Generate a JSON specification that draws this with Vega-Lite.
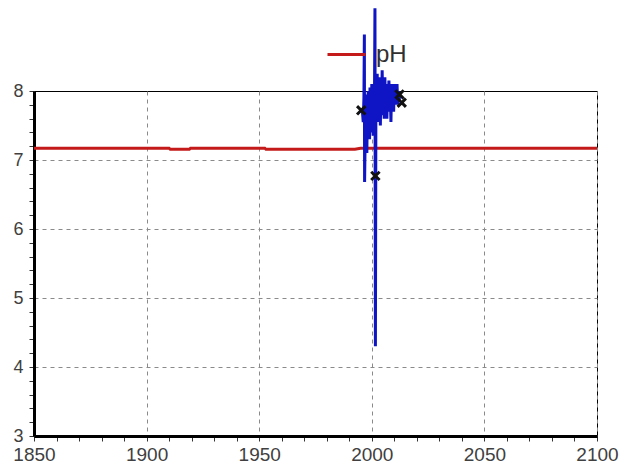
{
  "$schema": "https://vega.github.io/schema/vega-lite/v6.json",
  "autosize": "none",
  "width": 563,
  "height": 345,
  "padding": {"left": 34, "top": 91, "right": 22, "bottom": 33},
  "background": "white",
  "config": {
    "view": {"stroke": "black", "strokeWidth": 1},
    "font": "Liberation Sans",
    "axis": {
      "labelFont": "Liberation Sans",
      "labelFontSize": 19,
      "labelColor": "#404040",
      "domainColor": "black",
      "domainWidth": 3,
      "tickColor": "#333333",
      "tickSize": 5,
      "tickWidth": 1,
      "gridColor": "#8a8a8a",
      "gridDash": [4, 4],
      "gridWidth": 1,
      "title": null
    }
  },
  "datasets": {
    "ph": [
      {"year": 1850, "value": 7.17, "series": "pH"},
      {"year": 1910, "value": 7.17, "series": "pH"},
      {"year": 1910.5, "value": 7.155, "series": "pH"},
      {"year": 1919, "value": 7.155, "series": "pH"},
      {"year": 1919.5, "value": 7.17, "series": "pH"},
      {"year": 1952.5, "value": 7.17, "series": "pH"},
      {"year": 1953, "value": 7.155, "series": "pH"},
      {"year": 1992.5, "value": 7.155, "series": "pH"},
      {"year": 1995, "value": 7.17, "series": "pH"},
      {"year": 2100, "value": 7.17, "series": "pH"}
    ],
    "obs": [
      {"year": 1995.8, "value": 7.72},
      {"year": 1996.2, "value": 7.55},
      {"year": 1996.5, "value": 7.9},
      {"year": 1996.7, "value": 8.82},
      {"year": 1996.8, "value": 6.68},
      {"year": 1997.0, "value": 7.2},
      {"year": 1997.2, "value": 7.85},
      {"year": 1997.4, "value": 7.35},
      {"year": 1997.6, "value": 7.95},
      {"year": 1997.8, "value": 7.1},
      {"year": 1998.0, "value": 7.7},
      {"year": 1998.2, "value": 7.3},
      {"year": 1998.4, "value": 8.0},
      {"year": 1998.6, "value": 7.45},
      {"year": 1998.8, "value": 7.9},
      {"year": 1999.0, "value": 7.3},
      {"year": 1999.2, "value": 8.05},
      {"year": 1999.4, "value": 7.5},
      {"year": 1999.6, "value": 7.95},
      {"year": 1999.8, "value": 7.4},
      {"year": 2000.0, "value": 8.1},
      {"year": 2000.2, "value": 7.55},
      {"year": 2000.4, "value": 7.9},
      {"year": 2000.6, "value": 7.35},
      {"year": 2000.8, "value": 8.0},
      {"year": 2001.0, "value": 7.6},
      {"year": 2001.2, "value": 7.95},
      {"year": 2001.4, "value": 9.2},
      {"year": 2001.6, "value": 4.3},
      {"year": 2001.8, "value": 7.5},
      {"year": 2002.0, "value": 8.15},
      {"year": 2002.2, "value": 7.6},
      {"year": 2002.4, "value": 8.25},
      {"year": 2002.6, "value": 7.65},
      {"year": 2002.8, "value": 8.1},
      {"year": 2003.0, "value": 7.55},
      {"year": 2003.2, "value": 8.2},
      {"year": 2003.4, "value": 7.7},
      {"year": 2003.6, "value": 8.05},
      {"year": 2003.8, "value": 7.5},
      {"year": 2004.0, "value": 7.95},
      {"year": 2004.3, "value": 7.65},
      {"year": 2004.6, "value": 8.3},
      {"year": 2004.9, "value": 7.7},
      {"year": 2005.2, "value": 8.1},
      {"year": 2005.5, "value": 7.6},
      {"year": 2005.8, "value": 8.2},
      {"year": 2006.1, "value": 7.75},
      {"year": 2006.4, "value": 8.05},
      {"year": 2006.7, "value": 7.6},
      {"year": 2007.0, "value": 8.1},
      {"year": 2007.3, "value": 7.7},
      {"year": 2007.6, "value": 8.15},
      {"year": 2007.9, "value": 7.75},
      {"year": 2008.2, "value": 8.0},
      {"year": 2008.5, "value": 7.55},
      {"year": 2008.8, "value": 8.1},
      {"year": 2009.1, "value": 7.8},
      {"year": 2009.4, "value": 8.05},
      {"year": 2009.7, "value": 7.7},
      {"year": 2010.0, "value": 8.1},
      {"year": 2010.3, "value": 7.8},
      {"year": 2010.6, "value": 8.05},
      {"year": 2010.9, "value": 7.85},
      {"year": 2011.2, "value": 8.1},
      {"year": 2011.5, "value": 7.8},
      {"year": 2011.8, "value": 8.0},
      {"year": 2012.1, "value": 7.85},
      {"year": 2012.4, "value": 7.95}
    ],
    "marks": [
      {"year": 1995.3, "value": 7.72},
      {"year": 2001.6, "value": 6.77},
      {"year": 2012.3, "value": 7.95},
      {"year": 2013.3, "value": 7.83}
    ]
  },
  "encoding": {
    "x": {
      "field": "year",
      "type": "quantitative",
      "scale": {"domain": [1850, 2100], "nice": false, "zero": false},
      "axis": {
        "values": [1850,1860,1870,1880,1890,1900,1910,1920,1930,1940,1950,1960,1970,1980,1990,2000,2010,2020,2030,2040,2050,2060,2070,2080,2090,2100],
        "tickCount": 1000,
        "tickMinStep": 1,
        "labelExpr": "datum.value % 50 === 0 ? format(datum.value, 'd') : ''",
        "labelPadding": 4,
        "labelFlush": false,
        "labelOverlap": false,
        "grid": true,
        "gridOpacity": {"condition": {"test": "datum.value % 50 === 0 && datum.value > 1850", "value": 1}, "value": 0}
      }
    },
    "y": {
      "field": "value",
      "type": "quantitative",
      "scale": {"domain": [3, 8], "nice": false, "zero": false},
      "axis": {
        "values": [3,3.2,3.4,3.6,3.8,4,4.2,4.4,4.6,4.8,5,5.2,5.4,5.6,5.8,6,6.2,6.4,6.6,6.8,7,7.2,7.4,7.6,7.8,8],
        "tickCount": 1000,
        "tickMinStep": 0.1,
        "labelExpr": "datum.value % 1 === 0 ? format(datum.value, 'd') : ''",
        "labelPadding": 6,
        "labelFlush": false,
        "labelOverlap": false,
        "labelFontSize": 18,
        "grid": true,
        "gridOpacity": {"condition": {"test": "datum.value % 1 === 0 && datum.value > 3 && datum.value < 8", "value": 1}, "value": 0}
      }
    }
  },
  "layer": [
    {
      "data": {"name": "ph"},
      "mark": {"type": "line", "strokeWidth": 3, "interpolate": "linear"},
      "encoding": {
        "color": {
          "field": "series",
          "type": "nominal",
          "scale": {"domain": ["pH"], "range": ["#c41a1a"]},
          "legend": {
            "orient": "none",
            "legendX": 292,
            "legendY": -57,
            "title": null,
            "padding": 0,
            "symbolType": "stroke",
            "symbolSize": 1444,
            "symbolStrokeWidth": 3,
            "labelFontSize": 24,
            "labelFont": "Liberation Sans",
            "labelColor": "#303030",
            "labelOffset": 9
          }
        }
      }
    },
    {
      "data": {"name": "obs"},
      "mark": {"type": "line", "strokeWidth": 3, "color": "#0f14c4", "clip": false}
    },
    {
      "data": {"name": "marks"},
      "mark": {"type": "point", "shape": "M-1,-1L1,1M1,-1L-1,1", "filled": false, "stroke": "#111111", "strokeWidth": 3, "size": 70, "opacity": 1}
    }
  ]
}
